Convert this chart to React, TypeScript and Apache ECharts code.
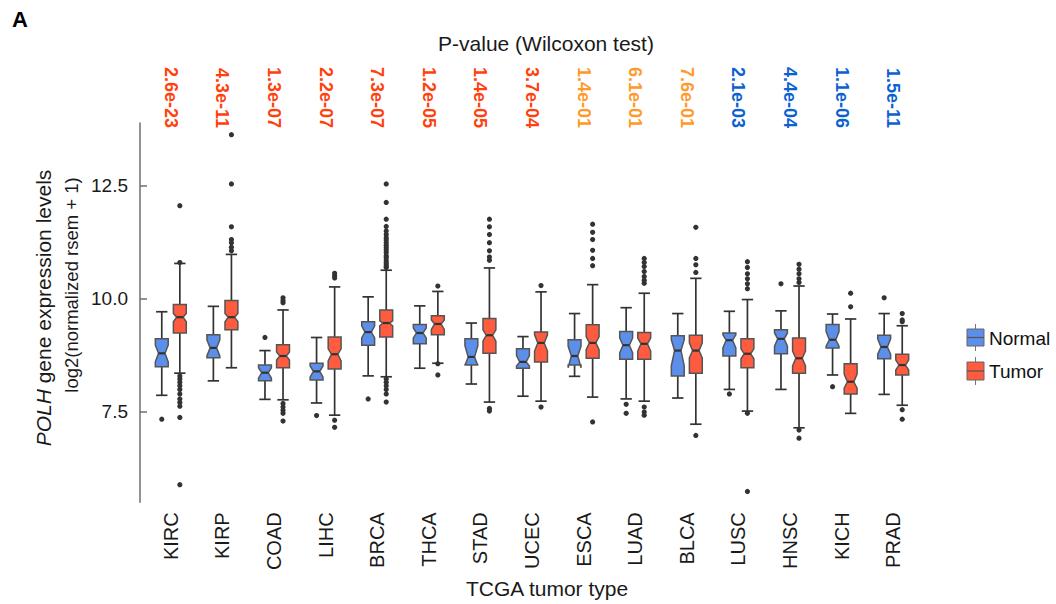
import React, { useEffect, useRef } from "react";
import * as echarts from "echarts";

const FONT = "'Liberation Sans', Arial, Helvetica, sans-serif";

const categories = ["KIRC", "KIRP", "COAD", "LIHC", "BRCA", "THCA", "STAD", "UCEC", "ESCA", "LUAD", "BLCA", "LUSC", "HNSC", "KICH", "PRAD"];

const pValues = ["2.6e-23", "4.3e-11", "1.3e-07", "2.2e-07", "7.3e-07", "1.2e-05", "1.4e-05", "3.7e-04", "1.4e-01", "6.1e-01", "7.6e-01", "2.1e-03", "4.4e-04", "1.1e-06", "1.5e-11"];
// direction of the difference: up (tumor higher), ns (not significant), down (tumor lower)
const pGroups = ["up", "up", "up", "up", "up", "up", "up", "up", "ns", "ns", "ns", "down", "down", "down", "down"];

const yTicks = [7.5, 10, 12.5];

// [lowWhisker, Q1, notchLow, median, notchHigh, Q3, highWhisker]
const normalBoxes = [
  [7.86, 8.49, 8.60, 8.79, 8.97, 9.11, 9.71],
  [8.18, 8.69, 8.73, 8.91, 9.09, 9.20, 9.83],
  [7.77, 8.18, 8.24, 8.36, 8.47, 8.53, 8.85],
  [7.69, 8.20, 8.26, 8.39, 8.51, 8.57, 9.14],
  [8.29, 8.97, 9.13, 9.26, 9.40, 9.49, 10.04],
  [8.46, 9.00, 9.13, 9.24, 9.35, 9.43, 9.84],
  [8.11, 8.53, 8.52, 8.71, 8.96, 9.11, 9.46],
  [7.84, 8.46, 8.51, 8.60, 8.74, 8.89, 9.16],
  [8.28, 8.53, 8.47, 8.73, 8.95, 9.09, 9.67],
  [7.78, 8.66, 8.80, 8.97, 9.13, 9.27, 9.80],
  [7.80, 8.29, 8.51, 8.85, 9.09, 9.18, 9.67],
  [7.99, 8.73, 8.91, 9.08, 9.20, 9.24, 9.72],
  [7.99, 8.78, 8.95, 9.11, 9.24, 9.31, 9.73],
  [8.31, 8.91, 8.95, 9.09, 9.27, 9.43, 9.66],
  [7.88, 8.67, 8.77, 8.93, 9.11, 9.19, 9.67],
];

const tumorBoxes = [
  [8.35, 9.24, 9.49, 9.59, 9.67, 9.87, 10.78],
  [8.47, 9.31, 9.49, 9.59, 9.67, 9.96, 10.98],
  [7.76, 8.47, 8.64, 8.73, 8.82, 8.98, 9.75],
  [7.42, 8.44, 8.62, 8.77, 8.89, 9.15, 10.26],
  [8.27, 9.15, 9.40, 9.46, 9.51, 9.75, 10.63],
  [8.57, 9.20, 9.32, 9.44, 9.53, 9.62, 10.16],
  [7.71, 8.79, 9.06, 9.19, 9.31, 9.56, 10.68],
  [7.73, 8.60, 8.84, 9.02, 9.20, 9.26, 10.15],
  [7.82, 8.68, 8.87, 9.02, 9.16, 9.42, 10.31],
  [7.73, 8.66, 8.84, 9.00, 9.13, 9.25, 10.12],
  [7.22, 8.35, 8.69, 8.85, 9.02, 9.19, 10.45],
  [7.51, 8.47, 8.67, 8.78, 8.89, 9.11, 9.98],
  [7.14, 8.35, 8.51, 8.68, 8.84, 9.13, 10.28],
  [7.46, 7.89, 8.02, 8.16, 8.33, 8.56, 9.55],
  [7.64, 8.31, 8.42, 8.53, 8.64, 8.77, 9.40],
];

const normalOutliers = [
  [7.33],
  [],
  [9.14],
  [7.41],
  [7.78],
  [],
  [],
  [],
  [],
  [7.66, 7.46],
  [],
  [7.89],
  [10.33],
  [8.05],
  [10.02],
];

const tumorOutliers = [
  [12.06, 10.80, 8.29, 8.22, 8.15, 8.07, 7.99, 7.89, 7.78, 7.70, 7.62, 7.37, 5.88],
  [13.63, 12.54, 11.59, 11.31, 11.24, 11.14, 11.06],
  [10.02, 9.96, 9.91, 7.68, 7.60, 7.53, 7.46, 7.29],
  [10.56, 10.51, 10.46, 7.31, 7.15],
  [12.54, 12.13, 11.76, 11.60, 11.50, 11.42, 11.35, 11.30, 11.24, 11.18, 11.13, 11.08, 11.02, 10.95, 10.91, 10.85, 10.80, 10.76, 10.72, 10.69, 8.22, 8.15, 8.07, 7.99, 7.89, 7.71],
  [10.28, 8.56, 8.31],
  [11.76, 11.59, 11.42, 11.24, 11.06, 10.92, 10.85, 7.57, 7.51],
  [10.29, 7.60],
  [11.65, 11.47, 11.31, 11.07, 10.89, 10.73, 7.27],
  [10.89, 10.80, 10.71, 10.60, 10.49, 10.41, 10.34, 7.60, 7.49, 7.42],
  [11.58, 10.89, 10.75, 10.58, 6.97],
  [10.82, 10.69, 10.55, 10.44, 10.33, 10.22, 7.46, 5.73],
  [10.76, 10.65, 10.55, 10.44, 10.36, 7.09, 6.91],
  [10.12, 9.82],
  [9.67, 9.53, 9.49, 7.54, 7.33],
];

const NORMAL_COLOR = "#5B8FE9";
const TUMOR_COLOR = "#FF5B3E";
const P_COLORS: Record<string, string> = { up: "#FF420D", ns: "#FF9A2A", down: "#0A62D0" };

const OFFSET = 0.175; // fraction of the category band
const BOX_W = 0.25;
const CAP_HALF = 0.11;

function boxRenderer(sign: number, fill: string) {
  return (_params: any, api: any) => {
    const ci = api.value(0);
    const band = api.size([1, 0])[0];
    const cx = api.coord([ci, 8])[0] + sign * band * OFFSET;
    const yv = (i: number) => api.coord([ci, api.value(i)])[1];
    const yLow = yv(1), yQ1 = yv(2), yNL = yv(3), yMed = yv(4), yNH = yv(5), yQ3 = yv(6), yHigh = yv(7);
    const half = (band * BOX_W) / 2;
    const inset = half * 0.5;
    const capH = band * CAP_HALF;
    const L = cx - half, R = cx + half;
    const whisker = { stroke: "#333", lineWidth: 1.7 };
    return {
      type: "group",
      children: [
        { type: "line", shape: { x1: cx, y1: yQ3, x2: cx, y2: yHigh }, style: whisker },
        { type: "line", shape: { x1: cx, y1: yQ1, x2: cx, y2: yLow }, style: whisker },
        { type: "line", shape: { x1: cx - capH, y1: yHigh, x2: cx + capH, y2: yHigh }, style: whisker },
        { type: "line", shape: { x1: cx - capH, y1: yLow, x2: cx + capH, y2: yLow }, style: whisker },
        {
          type: "polygon",
          shape: {
            points: [
              [L, yQ3], [R, yQ3], [R, yNH], [R - inset, yMed], [R, yNL], [R, yQ1],
              [L, yQ1], [L, yNL], [L + inset, yMed], [L, yNH],
            ],
          },
          style: { fill, stroke: "#555", lineWidth: 1.5 },
        },
        { type: "line", shape: { x1: L + inset, y1: yMed, x2: R - inset, y2: yMed }, style: { stroke: "#333", lineWidth: 2.2 } },
      ],
    };
  };
}

function outlierRenderer(sign: number) {
  return (_params: any, api: any) => {
    const ci = api.value(0);
    const band = api.size([1, 0])[0];
    const p = api.coord([ci, api.value(1)]);
    return {
      type: "circle",
      shape: { cx: p[0] + sign * band * OFFSET, cy: p[1], r: 2.6 },
      style: { fill: "#333" },
    };
  };
}

const flattenOutliers = (groups: number[][]) =>
  groups.flatMap((vals, i) => vals.map((v) => [i, v]));

export default function App() {
  const ref = useRef<HTMLDivElement>(null);

  useEffect(() => {
    document.body.style.margin = "0";
    if (!ref.current) return;
    const chart = echarts.init(ref.current, null, { renderer: "svg" });

    const option: any = {
      animation: false,
      backgroundColor: "#ffffff",
      textStyle: { fontFamily: FONT },
      grid: { left: 145, right: 137, top: 123, bottom: 96, containLabel: false },
      xAxis: [
        {
          type: "category",
          data: categories,
          position: "bottom",
          axisLine: { show: false },
          axisTick: { show: false },
          splitLine: { show: false },
          axisLabel: { interval: 0, rotate: 90, margin: 10, fontSize: 20, color: "#1a1a1a", fontFamily: FONT },
          name: "TCGA tumor type",
          nameLocation: "middle",
          nameGap: 72,
          nameTextStyle: { fontSize: 21, color: "#1a1a1a", fontFamily: FONT, padding: [0, 0, 0, 30] },
        },
        {
          type: "category",
          data: categories,
          position: "top",
          axisLine: { show: false },
          axisTick: { show: false },
          splitLine: { show: false },
          axisLabel: {
            interval: 0,
            rotate: 90,
            margin: -5,
            fontSize: 18,
            fontWeight: "bold",
            fontFamily: FONT,
            formatter: (_v: string, i: number) => pValues[i],
            color: (_v: any, i: number) => P_COLORS[pGroups[i]],
          },
        },
      ],
      yAxis: {
        type: "value",
        min: 5.49,
        max: 13.89,
        offset: 5,
        splitLine: { show: false },
        axisLine: { show: true, lineStyle: { color: "#6e6e6e", width: 1.5 } },
        axisTick: { show: true, inside: true, length: 7, customValues: yTicks, lineStyle: { color: "#6e6e6e", width: 1.5 } },
        axisLabel: {
          customValues: yTicks,
          formatter: (v: number) => v.toFixed(1),
          fontSize: 19,
          color: "#1a1a1a",
          margin: 12,
          fontFamily: FONT,
        },
      },
      graphic: [
        { type: "text", left: 12, top: 8, style: { text: "A", fontSize: 22, fontWeight: "bold", fill: "#000", fontFamily: FONT } },
        {
          type: "text", x: 546, y: 43,
          style: { text: "P-value (Wilcoxon test)", fontSize: 21, fill: "#1a1a1a", fontFamily: FONT, align: "center", verticalAlign: "middle" },
        },
        {
          type: "text", x: 43, y: 308, rotation: Math.PI / 2,
          style: {
            text: "{i|POLH} gene expression levels",
            fontSize: 21, fill: "#1a1a1a", fontFamily: FONT, align: "center", verticalAlign: "middle",
            rich: { i: { fontStyle: "italic", fontSize: 21, fontFamily: FONT, fill: "#1a1a1a" } },
          },
        },
        {
          type: "text", x: 71, y: 285, rotation: Math.PI / 2,
          style: { text: "log2(normalized rsem + 1)", fontSize: 18.5, fill: "#1a1a1a", fontFamily: FONT, align: "center", verticalAlign: "middle" },
        },
        // legend
        { type: "line", shape: { x1: 975.5, y1: 324, x2: 975.5, y2: 351 }, style: { stroke: "#777", lineWidth: 1 } },
        { type: "rect", shape: { x: 967, y: 329, width: 17, height: 17 }, style: { fill: NORMAL_COLOR, stroke: "#666", lineWidth: 1 } },
        { type: "line", shape: { x1: 967, y1: 337.5, x2: 984, y2: 337.5 }, style: { stroke: "#555", lineWidth: 1.2 } },
        { type: "text", x: 989, y: 338, style: { text: "Normal", fontSize: 19, fill: "#111", fontFamily: FONT, verticalAlign: "middle" } },
        { type: "line", shape: { x1: 975.5, y1: 357, x2: 975.5, y2: 385 }, style: { stroke: "#777", lineWidth: 1 } },
        { type: "rect", shape: { x: 967, y: 362, width: 17, height: 18 }, style: { fill: TUMOR_COLOR, stroke: "#666", lineWidth: 1 } },
        { type: "line", shape: { x1: 967, y1: 371, x2: 984, y2: 371 }, style: { stroke: "#555", lineWidth: 1.2 } },
        { type: "text", x: 989, y: 371.5, style: { text: "Tumor", fontSize: 19, fill: "#111", fontFamily: FONT, verticalAlign: "middle" } },
      ],
      series: [
        {
          name: "Normal",
          type: "custom",
          xAxisIndex: 0,
          renderItem: boxRenderer(-1, NORMAL_COLOR),
          encode: { x: 0, y: [1, 2, 3, 4, 5, 6, 7] },
          data: normalBoxes.map((b, i) => [i, ...b]),
          z: 2,
        },
        {
          name: "Tumor",
          type: "custom",
          xAxisIndex: 0,
          renderItem: boxRenderer(1, TUMOR_COLOR),
          encode: { x: 0, y: [1, 2, 3, 4, 5, 6, 7] },
          data: tumorBoxes.map((b, i) => [i, ...b]),
          z: 2,
        },
        {
          name: "Normal outliers",
          type: "custom",
          xAxisIndex: 0,
          renderItem: outlierRenderer(-1),
          encode: { x: 0, y: 1 },
          data: flattenOutliers(normalOutliers),
          z: 3,
        },
        {
          name: "Tumor outliers",
          type: "custom",
          xAxisIndex: 0,
          renderItem: outlierRenderer(1),
          encode: { x: 0, y: 1 },
          data: flattenOutliers(tumorOutliers),
          z: 3,
        },
      ],
    };

    chart.setOption(option);
    return () => chart.dispose();
  }, []);

  return <div ref={ref} style={{ position: "absolute", left: 0, top: 0, width: 1056, height: 604 }} />;
}
